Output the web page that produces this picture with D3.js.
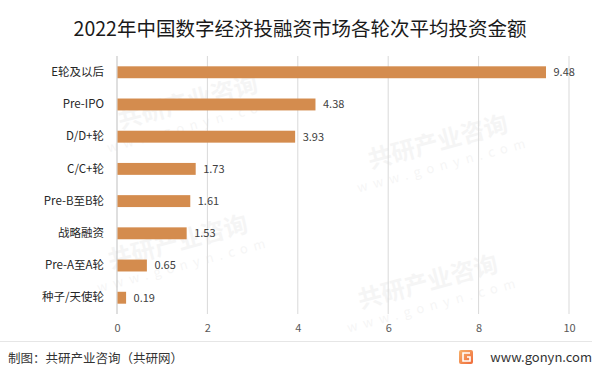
<!DOCTYPE html>
<html>
<head>
<meta charset="utf-8">
<script src="https://cdn.jsdelivr.net/npm/d3@7"></script>
<style>
  body { margin: 0; background: #fff; }
  text { font-family: "Noto Sans CJK SC", "Microsoft YaHei", sans-serif; }
</style>
</head>
<body>
<div id="chart"></div>
<script>
// chart data
var categories = ["E轮及以后", "Pre-IPO", "D/D+轮", "C/C+轮", "Pre-B至B轮", "战略融资", "Pre-A至A轮", "种子/天使轮"];
var values = [9.48, 4.38, 3.93, 1.73, 1.61, 1.53, 0.65, 0.19];
var xTicks = [0, 2, 4, 6, 8, 10];
var title = "2022年中国数字经济投融资市场各轮次平均投资金额";

var width = 600, height = 373;
var margin = {top: 56, right: 31, bottom: 59, left: 117};

var svg = d3.select("#chart").append("svg")
    .attr("width", width)
    .attr("height", height);

// faint watermarks, kept inside the frame
var marks = [[190, 110], [440, 150], [180, 250], [430, 290]];
marks.forEach(function(m) {
    var g = svg.append("g")
        .attr("transform", "translate(" + m[0] + "," + m[1] + ") rotate(-15)")
        .attr("opacity", 0.035);
    g.append("text")
        .attr("text-anchor", "middle")
        .attr("font-size", 24)
        .attr("font-weight", "bold")
        .attr("fill", "#000")
        .text("共研产业咨询");
    g.append("text")
        .attr("y", 20)
        .attr("text-anchor", "middle")
        .attr("font-size", 13)
        .attr("letter-spacing", 6)
        .attr("fill", "#000")
        .text("www.gonyn.com");
});

var x = d3.scaleLinear()
    .domain([0, 10])
    .range([margin.left, width - margin.right]);

var y = d3.scaleBand()
    .domain(categories)
    .range([margin.top, height - margin.bottom])
    .paddingInner(0.63)
    .paddingOuter(0.32);

// title
svg.append("text")
    .attr("x", 300)
    .attr("y", 36)
    .attr("text-anchor", "middle")
    .attr("font-size", 19.5)
    .attr("fill", "#1a1a1a")
    .text(title);

// vertical gridlines
svg.append("g")
    .selectAll("line")
    .data(xTicks)
    .join("line")
    .attr("x1", function(d) { return x(d); })
    .attr("x2", function(d) { return x(d); })
    .attr("y1", margin.top)
    .attr("y2", height - margin.bottom)
    .attr("stroke", function(d) { return d === 0 ? "#bfbfbf" : "#d9d9d9"; })
    .attr("stroke-width", 1);

// x axis labels
var xAxis = svg.append("g")
    .attr("transform", "translate(0," + (height - margin.bottom) + ")")
    .call(d3.axisBottom(x).tickValues(xTicks).tickSize(0).tickPadding(10));
xAxis.select(".domain").remove();
xAxis.selectAll("text")
    .attr("font-size", 11)
    .attr("fill", "#595959");

// y axis labels
var yAxis = svg.append("g")
    .attr("transform", "translate(" + (margin.left - 13) + ",0)")
    .call(d3.axisLeft(y).tickSize(0).tickPadding(0));
yAxis.select(".domain").remove();
yAxis.selectAll("text")
    .attr("font-size", 11.5)
    .attr("fill", "#262626");

// bars
svg.append("g")
    .selectAll("rect")
    .data(values)
    .join("rect")
    .attr("x", x(0) + 0.5)
    .attr("y", function(d, i) { return y(categories[i]); })
    .attr("width", function(d) { return x(d) - x(0); })
    .attr("height", y.bandwidth())
    .attr("fill", "#d48c4e");

// value labels
svg.append("g")
    .selectAll("text")
    .data(values)
    .join("text")
    .attr("x", function(d) { return x(d) + 8; })
    .attr("y", function(d, i) { return y(categories[i]) + y.bandwidth() / 2; })
    .attr("dy", "0.35em")
    .attr("font-size", 11)
    .attr("fill", "#404040")
    .text(function(d) { return d3.format(".2f")(d); });

// footer
svg.append("line")
    .attr("x1", 0)
    .attr("x2", 592)
    .attr("y1", 341.5)
    .attr("y2", 341.5)
    .attr("stroke", "#e6e6e6");

svg.append("text")
    .attr("x", 8)
    .attr("y", 363)
    .attr("font-size", 12.5)
    .attr("fill", "#333")
    .text("制图：共研产业咨询（共研网）");

var grad = svg.append("defs").append("linearGradient")
    .attr("id", "logo")
    .attr("x1", 0).attr("y1", 0).attr("x2", 1).attr("y2", 1);
grad.append("stop").attr("offset", 0).attr("stop-color", "#f7b26a");
grad.append("stop").attr("offset", 1).attr("stop-color", "#ef6a3a");

svg.append("rect")
    .attr("x", 459)
    .attr("y", 350)
    .attr("width", 14)
    .attr("height", 14)
    .attr("rx", 2)
    .attr("fill", "url(#logo)");
svg.append("path")
    .attr("d", "M470,353 h-7 v8 h7 v-4 h-3")
    .attr("fill", "none")
    .attr("stroke", "#fff")
    .attr("stroke-width", 1.6);

svg.append("text")
    .attr("x", 592)
    .attr("y", 362)
    .attr("text-anchor", "end")
    .attr("font-size", 13)
    .attr("fill", "#333")
    .attr("font-family", "'Open Sans', 'DejaVu Sans', sans-serif")
    .text("www.gonyn.com");
</script>
</body>
</html>
